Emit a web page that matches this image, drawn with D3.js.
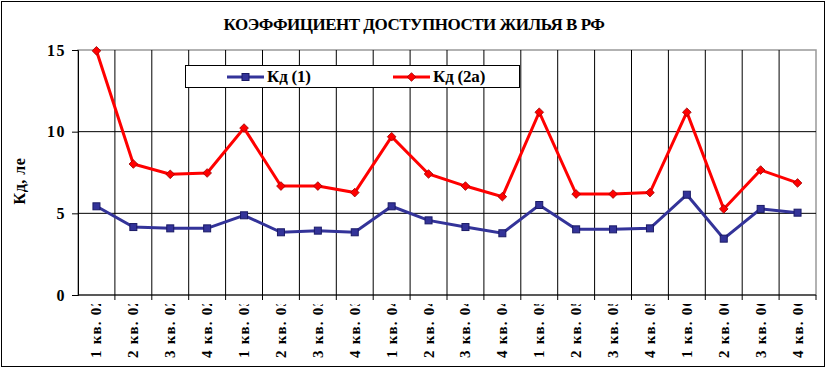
<!DOCTYPE html>
<html>
<head>
<meta charset="utf-8">
<script src="https://cdn.jsdelivr.net/npm/d3@7"></script>
<style>
  body { margin: 0; background: #fff; }
</style>
</head>
<body>
<div id="chart"></div>
<script>
// quarters 2002-2006
var categories = ["1 кв. 02","2 кв. 02","3 кв. 02","4 кв. 02",
                  "1 кв. 03","2 кв. 03","3 кв. 03","4 кв. 03",
                  "1 кв. 04","2 кв. 04","3 кв. 04","4 кв. 04",
                  "1 кв. 05","2 кв. 05","3 кв. 05","4 кв. 05",
                  "1 кв. 06","2 кв. 06","3 кв. 06","4 кв. 06"];
var kd1  = [5.43,4.16,4.08,4.08,4.88,3.84,3.94,3.84,5.43,4.57,4.16,3.78,5.51,4.02,4.02,4.08,6.14,3.45,5.27,5.04];
var kd2a = [14.95,8.02,7.39,7.47,10.22,6.67,6.67,6.27,9.69,7.41,6.67,6.02,11.19,6.18,6.18,6.27,11.19,5.27,7.65,6.86];
var yTicks = [0, 5, 10, 15];
var seriesNames = ["Кд (1)", "Кд (2а)"];
var title = "КОЭФФИЦИЕНТ ДОСТУПНОСТИ ЖИЛЬЯ В РФ";

var FONT = "Liberation Serif";
var width = 827, height = 369;
var margin = { top: 50, right: 11, bottom: 74, left: 78 };
var w = width - margin.left - margin.right,
    h = height - margin.top - margin.bottom;

var svg = d3.select("#chart").append("svg")
    .attr("width", width).attr("height", height);

// outer border
svg.append("rect").attr("x", 1.5).attr("y", 1.5)
    .attr("width", width - 4).attr("height", height - 4)
    .attr("fill", "none").attr("stroke", "#000").attr("stroke-width", 1);

svg.append("text").attr("x", 414).attr("y", 30)
    .attr("text-anchor", "middle")
    .attr("font-family", FONT).attr("font-weight", "bold")
    .attr("font-size", 17).attr("letter-spacing", "-0.5")
    .text(title);

var g = svg.append("g").attr("transform", "translate(" + margin.left + "," + margin.top + ")");

var x = d3.scaleBand().domain(categories).range([0, w]);
var y = d3.scaleLinear().domain([0, 15]).range([h, 0]);

// plot area border (grey)
g.append("rect").attr("x", 0).attr("y", 0).attr("width", w).attr("height", h)
    .attr("fill", "none").attr("stroke", "#999").attr("stroke-width", 1.5);

// vertical grid at category boundaries
g.selectAll(".vgrid").data(categories.slice(1)).enter().append("line")
    .attr("x1", function (d) { return x(d); }).attr("x2", function (d) { return x(d); })
    .attr("y1", 0).attr("y2", h + 5)
    .attr("stroke", "#000").attr("stroke-width", 1);
g.append("line").attr("x1", w).attr("x2", w).attr("y1", h).attr("y2", h + 5).attr("stroke", "#000");

// horizontal grid
g.selectAll(".hgrid").data(yTicks.filter(function (d) { return d > 0 && d < 15; })).enter().append("line")
    .attr("x1", 0).attr("x2", w)
    .attr("y1", function (d) { return y(d); }).attr("y2", function (d) { return y(d); })
    .attr("stroke", "#000").attr("stroke-width", 1);

// y axis
var ya = g.append("g").call(d3.axisLeft(y).tickValues(yTicks).tickSize(6).tickPadding(6))
    .attr("font-family", FONT).attr("font-size", 16).attr("font-weight", "bold");
ya.selectAll(".tick text").attr("letter-spacing", "1.5");
ya.select(".domain").attr("stroke", "#000").attr("stroke-width", 1);

// x axis line
g.append("line").attr("x1", 0).attr("x2", w).attr("y1", h).attr("y2", h)
    .attr("stroke", "#000").attr("stroke-width", 1);

// x labels, clipped at the top like the original
svg.append("clipPath").attr("id", "xclip").append("rect")
    .attr("x", 0).attr("y", 304).attr("width", width).attr("height", 60);
svg.append("g").attr("clip-path", "url(#xclip)")
    .attr("font-family", FONT).attr("font-weight", "bold").attr("font-size", 15)
    .attr("letter-spacing", "1.2")
    .selectAll("text").data(categories).enter().append("text")
    .attr("transform", function (d) {
        return "translate(" + (margin.left + x(d) + x.bandwidth() / 2 + 5) + ",358) rotate(-90)";
    })
    .text(function (d) { return d; });

// y label
svg.append("text")
    .attr("transform", "translate(25,181) rotate(-90)")
    .attr("text-anchor", "middle")
    .attr("font-family", FONT).attr("font-weight", "bold")
    .attr("font-size", 16).attr("letter-spacing", "0.5")
    .text("Кд, ле");

var cx = function (d, i) { return x(categories[i]) + x.bandwidth() / 2; };
var line = d3.line().x(cx).y(function (d) { return y(d); });

var blue = "#333399", red = "#ff0000";

g.append("path").datum(kd1).attr("d", line)
    .attr("fill", "none").attr("stroke", blue).attr("stroke-width", 3);
g.append("path").datum(kd2a).attr("d", line)
    .attr("fill", "none").attr("stroke", red).attr("stroke-width", 3);

g.selectAll(".sq").data(kd1).enter().append("rect")
    .attr("x", function (d, i) { return cx(d, i) - 3.5; })
    .attr("y", function (d) { return y(d) - 3.5; })
    .attr("width", 7).attr("height", 7)
    .attr("fill", blue).attr("stroke", "#1a1a66").attr("stroke-width", 1);

var diamond = d3.symbol().type(d3.symbolDiamond2).size(48);
g.selectAll(".dm").data(kd2a).enter().append("path")
    .attr("d", diamond)
    .attr("transform", function (d, i) { return "translate(" + cx(d, i) + "," + y(d) + ")"; })
    .attr("fill", red).attr("stroke", "#990000").attr("stroke-width", 0.8);

// legend
var lg = svg.append("g");
lg.append("rect").attr("x", 185.5).attr("y", 65.5).attr("width", 334).attr("height", 22)
    .attr("fill", "#fff").attr("stroke", "#000").attr("stroke-width", 1);
var lx = [227, 393];
seriesNames.forEach(function (name, i) {
    var col = i === 0 ? blue : red;
    lg.append("line").attr("x1", lx[i]).attr("x2", lx[i] + 37).attr("y1", 77).attr("y2", 77)
        .attr("stroke", col).attr("stroke-width", 3);
    if (i === 0) {
        lg.append("rect").attr("x", lx[i] + 15).attr("y", 73.5).attr("width", 7).attr("height", 7)
            .attr("fill", blue).attr("stroke", "#1a1a66");
    } else {
        lg.append("path").attr("d", diamond)
            .attr("transform", "translate(" + (lx[i] + 18.5) + ",77)")
            .attr("fill", red).attr("stroke", "#990000").attr("stroke-width", 0.8);
    }
    lg.append("text").attr("x", lx[i] + 40).attr("y", 82)
        .attr("font-family", FONT).attr("font-weight", "bold")
        .attr("font-size", 17).attr("letter-spacing", "-0.2")
        .text(name);
});
</script>
</body>
</html>
